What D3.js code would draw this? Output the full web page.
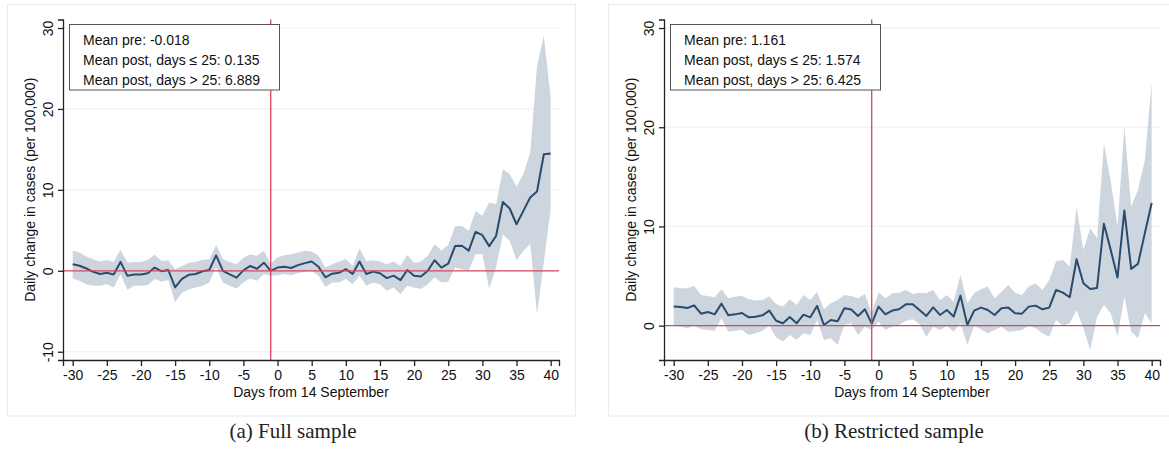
<!DOCTYPE html>
<html>
<head>
<meta charset="utf-8">
<script src="https://cdn.jsdelivr.net/npm/d3@7"></script>
<style>
  body { margin: 0; background: #fff; }
  svg { display: block; }
</style>
</head>
<body>
<script>
'use strict';

var days = d3.range(-30, 41);
var xTicks = [-30, -25, -20, -15, -10, -5, 0, 5, 10, 15, 20, 25, 30, 35, 40];

// (a) full sample
var fullMean = [0.82, 0.62, 0.29, -0.12, -0.4, -0.25, -0.45, 1.1, -0.6, -0.45,
  -0.45, -0.3, 0.4, -0.05, 0.1, -2.05, -1.0, -0.5, -0.4, -0.05,
  0.1, 1.9, 0.0, -0.45, -0.85, 0.05, 0.6, 0.25, 1.0, 0.0,
  0.4, 0.5, 0.35, 0.7, 0.95, 1.15, 0.5, -0.8, -0.35, -0.25,
  0.2, -0.4, 1.15, -0.4, -0.1, -0.3, -0.9, -0.6, -1.15, 0.1,
  -0.6, -0.7, 0.0, 1.3, 0.4, 0.9, 3.05, 3.1, 2.5, 4.8,
  4.4, 3.05, 4.3, 8.5, 7.7, 5.75, 7.4, 9.05, 9.8, 14.4, 14.5];
var fullUpper = [2.47, 2.26, 1.77, 1.44, 1.15, 1.32, 1.11, 2.6, 1.03, 1.1,
  1.1, 1.36, 1.98, 1.2, 1.3, 0.2, 0.6, 1.0, 1.1, 1.36,
  1.44, 3.2, 1.44, 1.1, 0.8, 1.6, 2.0, 1.85, 2.47, 0.9,
  1.65, 1.93, 2.05, 2.26, 2.47, 2.4, 1.85, 0.4, 0.8, 1.15,
  1.45, 0.6, 2.75, 1.2, 1.3, 1.15, 0.8, 1.15, 0.6, 1.95,
  1.0, 1.15, 1.85, 3.3, 2.5, 3.2, 5.5, 5.55, 4.95, 7.4,
  6.8, 8.45, 8.2, 12.55, 11.95, 10.4, 11.95, 14.6, 25.3, 29.0, 21.4];
var fullLower = [-0.95, -1.23, -1.65, -1.85, -1.85, -1.65, -2.06, -0.41, -2.35, -1.85,
  -1.85, -1.75, -1.0, -1.35, -1.15, -3.9, -2.7, -2.3, -2.06, -1.85,
  -1.44, 0.4, -1.44, -1.85, -2.2, -1.44, -0.95, -1.23, -0.4, -0.6,
  -0.55, -0.4, -0.55, -0.3, -0.12, 0.0, -0.6, -2.0, -1.45, -1.45,
  -1.0, -1.65, -0.6, -1.85, -1.45, -1.65, -2.45, -2.05, -2.9, -1.85,
  -2.05, -2.25, -1.65, -0.8, -1.45, -1.35, 0.4, 0.2, 0.0, 2.05,
  2.05, -2.25, 0.4, 4.5, 3.7, 1.3, 2.45, 3.3, -5.4, 1.1, 7.6];
var fullYTicks = [-10, 0, 10, 20, 30];
var fullNotes = ['Mean pre: -0.018', 'Mean post, days \u2264 25: 0.135', 'Mean post, days > 25: 6.889'];

// (b) restricted sample
var restMean = [1.92, 1.89, 1.78, 2.05, 1.21, 1.38, 1.14, 2.22, 1.04, 1.14,
  1.28, 0.84, 0.91, 1.04, 1.52, 0.5, 0.24, 0.88, 0.24, 1.11,
  0.84, 1.99, 0.07, 0.57, 0.44, 1.75, 1.62, 0.98, 1.65, 0.2,
  1.92, 1.14, 1.52, 1.65, 2.15, 2.15, 1.58, 0.98, 1.85, 1.08,
  1.58, 0.91, 3.03, 0.07, 1.52, 1.82, 1.58, 1.08, 1.75, 1.82,
  1.25, 1.21, 1.92, 2.02, 1.65, 1.82, 3.6, 3.33, 2.86, 6.7,
  4.28, 3.7, 3.8, 10.27, 7.64, 4.85, 11.6, 5.72, 6.23, 9.33, 12.36];
var restUpper = [3.87, 3.77, 3.77, 4.0, 3.1, 3.0, 2.86, 3.67, 2.76, 2.93,
  3.0, 2.66, 2.53, 2.6, 2.93, 2.19, 1.92, 2.66, 2.09, 3.1,
  2.6, 3.43, 1.65, 2.26, 2.6, 3.1, 3.0, 2.76, 3.2, 1.25,
  3.37, 2.76, 3.27, 3.33, 3.6, 3.2, 3.33, 3.27, 3.6, 2.59,
  3.1, 2.42, 5.12, 2.26, 3.27, 3.67, 3.94, 2.76, 3.43, 4.1,
  3.33, 3.1, 3.94, 4.28, 3.6, 4.6, 6.5, 6.63, 5.96, 11.95,
  7.66, 9.83, 8.82, 18.35, 14.55, 10.0, 20.1, 12.0, 13.7, 16.7, 24.5];
var restLower = [0.07, -0.1, -0.27, 0.0, -0.37, -0.44, -0.5, 0.74, -0.6, -0.5,
  -0.44, -0.94, -0.77, -0.5, 0.0, -1.18, -1.6, -0.94, -1.45, -0.77,
  -0.94, 0.57, -1.45, -1.28, -1.95, 0.07, 0.24, -0.94, -0.1, -0.44,
  0.4, -0.44, -0.1, 0.07, 0.5, 0.64, 0.17, -1.11, -0.1, -0.44,
  -0.03, -0.6, 0.24, -1.95, -0.03, -0.37, -0.77, -0.44, -0.1, -0.6,
  -0.54, -0.44, -0.03, -0.27, -0.77, -1.11, 0.57, -0.03, 0.24, 1.58,
  -0.27, -2.46, 0.91, 2.09, 1.25, -1.11, 2.93, -0.6, -1.28, 1.25, 0.24];
var restYTicks = [0, 10, 20, 30];
var restNotes = ['Mean pre: 1.161', 'Mean post, days \u2264 25: 1.574', 'Mean post, days > 25: 6.425'];

var captions = ['(a) Full sample', '(b) Restricted sample'];

var lineColor = '#2a4b6d';
var bandColor = '#cdd6df';
var refColor = '#d9445f';
var gridColor = '#ebf1f1';
var sansFont = 'Liberation Sans, Arial, Helvetica, sans-serif';

var svg = d3.select('body').append('svg')
  .attr('width', 1169)
  .attr('height', 450);

// plain hyphen for negatives, like the original figure
function plainNumber(d) {
  return String(d);
}

function drawPanel(dx, mean, lower, upper, yDomain, yTicks, notes, caption) {
  var g = svg.append('g').attr('transform', 'translate(' + dx + ',0)');
  var left = 63, right = 559, top = 19.5, bottom = 360;

  var x = d3.scaleLinear().domain([-31.42, 41.22]).range([left, right]);
  var y = d3.scaleLinear().domain(yDomain).range([bottom, top]);

  g.append('rect')
    .attr('x', 7.5).attr('y', 4.5)
    .attr('width', 568).attr('height', 411.5)
    .attr('fill', 'none')
    .attr('stroke', '#e7ecec');

  // grid lines, the zero line is drawn in red later
  g.selectAll('line.grid')
    .data(yTicks.filter(function(t) { return t !== 0; }))
    .enter()
    .append('line')
    .attr('class', 'grid')
    .attr('x1', left).attr('x2', right)
    .attr('y1', function(d) { return y(d); })
    .attr('y2', function(d) { return y(d); })
    .attr('stroke', gridColor)
    .attr('stroke-width', 1.2);

  var rows = days.map(function(d, i) {
    return { day: d, mean: mean[i], lo: lower[i], hi: upper[i] };
  });

  g.append('path')
    .datum(rows)
    .attr('fill', bandColor)
    .attr('d', d3.area()
      .x(function(d) { return x(d.day); })
      .y0(function(d) { return y(d.lo); })
      .y1(function(d) { return y(d.hi); }));

  g.append('path')
    .datum(rows)
    .attr('fill', 'none')
    .attr('stroke', lineColor)
    .attr('stroke-width', 2)
    .attr('stroke-linejoin', 'round')
    .attr('d', d3.line()
      .x(function(d) { return x(d.day); })
      .y(function(d) { return y(d.mean); }));

  g.append('line')
    .attr('x1', left).attr('x2', right)
    .attr('y1', y(0)).attr('y2', y(0))
    .attr('stroke', refColor)
    .attr('stroke-width', 1.3);

  g.append('line')
    .attr('x1', x(-1)).attr('x2', x(-1))
    .attr('y1', top).attr('y2', bottom)
    .attr('stroke', refColor)
    .attr('stroke-width', 1.3);

  var xAxis = g.append('g')
    .attr('transform', 'translate(0,' + bottom + ')')
    .call(d3.axisBottom(x).tickValues(xTicks).tickFormat(plainNumber)
      .tickSizeOuter(0).tickSize(6).tickPadding(4));
  xAxis.selectAll('text')
    .attr('font-family', sansFont)
    .attr('font-size', 14)
    .attr('fill', '#111');

  var yAxis = g.append('g')
    .attr('transform', 'translate(' + left + ',0)')
    .call(d3.axisLeft(y).tickValues(yTicks).tickFormat(plainNumber)
      .tickSizeOuter(0).tickSize(5));
  yAxis.selectAll('text')
    .attr('transform', 'rotate(-90)')
    .attr('x', 0)
    .attr('y', -10)
    .attr('dy', 0)
    .attr('text-anchor', 'middle')
    .attr('font-family', sansFont)
    .attr('font-size', 14)
    .attr('fill', '#111');

  g.selectAll('.domain, .tick line')
    .attr('stroke', '#222')
    .attr('stroke-width', 1.3);

  g.append('text')
    .attr('x', (left + right) / 2)
    .attr('y', 397)
    .attr('text-anchor', 'middle')
    .attr('font-family', sansFont)
    .attr('font-size', 14)
    .attr('fill', '#111')
    .text('Days from 14 September');

  g.append('text')
    .attr('transform', 'translate(' + (left - 28) + ',' + (top + bottom) / 2 + ') rotate(-90)')
    .attr('text-anchor', 'middle')
    .attr('font-family', sansFont)
    .attr('font-size', 14)
    .attr('fill', '#111')
    .text('Daily change in cases (per 100,000)');

  var note = g.append('g');
  note.append('rect')
    .attr('x', 69.5).attr('y', 24.5)
    .attr('width', 210).attr('height', 65.5)
    .attr('fill', '#fff')
    .attr('stroke', '#555')
    .attr('stroke-width', 1);
  note.selectAll('text')
    .data(notes)
    .enter()
    .append('text')
    .attr('x', 83)
    .attr('y', function(d, i) { return 44.5 + i * 20.3; })
    .attr('font-family', sansFont)
    .attr('font-size', 14)
    .attr('fill', '#111')
    .text(function(d) { return d; });

  g.append('text')
    .attr('x', 293)
    .attr('y', 438)
    .attr('text-anchor', 'middle')
    .attr('font-family', 'Liberation Serif, Times New Roman, serif')
    .attr('font-size', 21)
    .attr('fill', '#222')
    .text(caption);
}

drawPanel(0, fullMean, fullLower, fullUpper, [-11.02, 31.05], fullYTicks, fullNotes, captions[0]);
drawPanel(601, restMean, restLower, restUpper, [-3.46, 30.86], restYTicks, restNotes, captions[1]);
</script>
</body>
</html>
